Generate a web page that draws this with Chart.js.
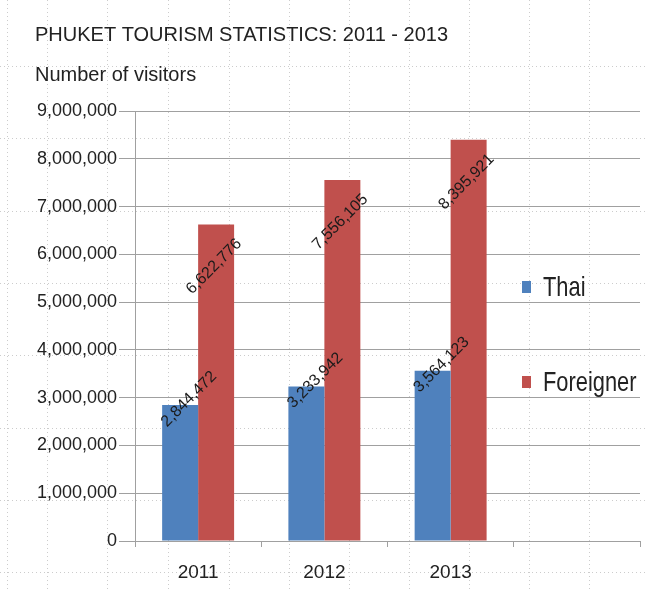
<!DOCTYPE html>
<html>
<head>
<meta charset="utf-8">
<script src="https://cdn.jsdelivr.net/npm/chart.js@4.4.1/dist/chart.umd.min.js"></script>
<style>
  html, body { margin: 0; padding: 0; background: #fff; }
  #wrap { width: 648px; height: 591px; }
</style>
</head>
<body>
<div id="wrap"><canvas id="tourismChart" width="648" height="591"></canvas></div>
<script>
const years = ["2011", "2012", "2013", ""];
const thaiVisitors = [2844472, 3233942, 3564123];
const foreignVisitors = [6622776, 7556105, 8395921];
const seriesNames = ["Thai", "Foreigner"];
const yTicks = [0, 1000000, 2000000, 3000000, 4000000, 5000000, 6000000, 7000000, 8000000, 9000000];

const BLUE = "#4f81bd";
const RED = "#c0504d";
const FONT = "'Liberation Sans', Arial, sans-serif";

// faint spreadsheet cell dots behind the chart
const sheetGrid = {
    id: "sheetGrid",
    beforeDraw(chart) {
        const ctx = chart.ctx;
        ctx.save();
        ctx.strokeStyle = "#cccccc";
        ctx.lineWidth = 1;
        ctx.setLineDash([1, 3]);
        const cols = [7, 47, 107, 168, 229, 289, 349, 409, 469, 529, 589];
        cols.forEach(x => {
            ctx.beginPath();
            ctx.moveTo(x + 0.5, 0);
            ctx.lineTo(x + 0.5, chart.height);
            ctx.stroke();
        });
        for (let y = 66; y < chart.height; y += 72.3) {
            ctx.beginPath();
            ctx.moveTo(0, Math.round(y) + 0.5);
            ctx.lineTo(chart.width, Math.round(y) + 0.5);
            ctx.stroke();
        }
        ctx.restore();
    }
};

// rotated value labels like Excel
const labelOffsets = [{dx: 9, dy: -6}, {dx: -2, dy: 42}];
const barLabels = {
    id: "barLabels",
    afterDatasetsDraw(chart) {
        const ctx = chart.ctx;
        chart.data.datasets.forEach((ds, i) => {
            const meta = chart.getDatasetMeta(i);
            meta.data.forEach((bar, j) => {
                const v = ds.data[j];
                if (v == null) return;
                ctx.save();
                ctx.translate(bar.x + labelOffsets[i].dx, bar.y + labelOffsets[i].dy);
                ctx.rotate(-Math.PI / 4);
                ctx.font = "16px " + FONT;
                ctx.fillStyle = "#1a1a1a";
                ctx.textAlign = "center";
                ctx.textBaseline = "middle";
                ctx.fillText(v.toLocaleString("en-US"), 0, 0);
                ctx.restore();
            });
        });
    }
};

// legend sitting inside the empty fourth category
const sideLegend = {
    id: "sideLegend",
    afterDraw(chart) {
        const ctx = chart.ctx;
        const area = chart.chartArea;
        const x = area.right - 118;
        const rows = [area.top + 176, area.top + 271];
        chart.data.datasets.forEach((ds, i) => {
            const y = rows[i];
            ctx.save();
            ctx.fillStyle = ds.backgroundColor;
            ctx.fillRect(x, y - 6, 9, 12);
            ctx.fillStyle = "#222";
            ctx.font = "28px " + FONT;
            ctx.textBaseline = "middle";
            ctx.translate(x + 21, y + 1);
            ctx.scale(0.78, 1);
            ctx.fillText(ds.label, 0, 0);
            ctx.restore();
        });
    }
};

function drawChart() {
    const ctx = document.getElementById("tourismChart").getContext("2d");
    new Chart(ctx, {
        type: "bar",
        data: {
            labels: years,
            datasets: [
                {label: seriesNames[0], data: thaiVisitors, backgroundColor: BLUE},
                {label: seriesNames[1], data: foreignVisitors, backgroundColor: RED}
            ]
        },
        options: {
            responsive: false,
            animation: false,
            categoryPercentage: 0.57,
            barPercentage: 1.0,
            layout: {padding: {left: 35, right: 8, top: 0, bottom: 0}},
            plugins: {
                legend: {display: false},
                tooltip: {enabled: false},
                title: {
                    display: true,
                    text: "PHUKET TOURISM STATISTICS: 2011 - 2013",
                    align: "start",
                    color: "#222",
                    font: {family: FONT, size: 20, weight: "normal"},
                    padding: {top: 23, bottom: 8}
                },
                subtitle: {
                    display: true,
                    text: "Number of visitors",
                    align: "start",
                    color: "#222",
                    font: {family: FONT, size: 20},
                    padding: {top: 8, bottom: 24}
                }
            },
            scales: {
                x: {
                    grid: {drawOnChartArea: false, color: "#a0a0a0", tickLength: 6},
                    border: {color: "#a0a0a0"},
                    ticks: {color: "#222", font: {family: FONT, size: 19}, padding: 14},
                    afterFit(scale) { scale.height = 50; }
                },
                y: {
                    min: 0,
                    max: 9000000,
                    afterBuildTicks(scale) { scale.ticks = yTicks.map(v => ({value: v})); },
                    grid: {color: "#a0a0a0", tickLength: 16},
                    border: {color: "#a0a0a0"},
                    ticks: {
                        color: "#222",
                        font: {family: FONT, size: 18},
                        padding: 2,
                        callback: v => v.toLocaleString("en-US")
                    },
                    afterFit(scale) { scale.width = 100; }
                }
            }
        },
        plugins: [sheetGrid, barLabels, sideLegend]
    });
}

window.onload = drawChart;
</script>
</body>
</html>
